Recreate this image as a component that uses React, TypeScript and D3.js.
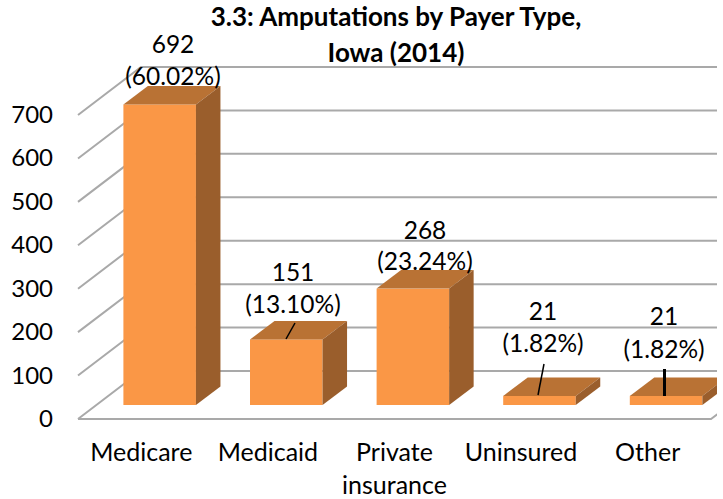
import React from 'react';
import * as d3 from 'd3';

const categories = ['Medicare', 'Medicaid', 'Private insurance', 'Uninsured', 'Other'];
const counts = [692, 151, 268, 21, 21];
const shares = ['60.02%', '13.10%', '23.24%', '1.82%', '1.82%'];
const yTicks = [0, 100, 200, 300, 400, 500, 600, 700];
const titleLines = ['3.3: Amputations by Payer Type,', 'Iowa (2014)'];

// Hand-placed label spots, the original chart had them dragged around
const labelX0 = [173, 293, 425, 543, 664];
const labelBase = [85, 313, 270, 352, 358];
const labelGap = [32, 32, 31, 32, 33];

const WIDTH = 723;
const HEIGHT = 499;
const FONT = 'Lato, "Open Sans", sans-serif';
const ORANGE = '#fa9746';
const ORANGE_TOP = '#b97234';
const ORANGE_SIDE = '#9a5e2c';
const GRID = '#a9a9a9';

// front edge of the floor
const floorLeft = 78;
const floorRight = 711;
const floorY = 419;
const y = d3.scaleLinear().domain([0, 700]).range([floorY, 115]);
const x = d3.scaleBand<string>().domain(categories).range([floorLeft, floorRight]).paddingInner(0.427).paddingOuter(0.2135);
const labelX = d3.scaleBand<string>().domain(categories).range([floorLeft, floorRight]);

// chart depth: how far the back wall is shifted from the front edge
const wallDx = 63;
const wallDy = 48;
// the bars stand inside the floor
const barInset = 14 / wallDy;
const barDx = 24.5;
const barDy = 18.5;

const path = d3.line();

export default function App() {
    const baseShiftX = wallDx * barInset;
    const baseShiftY = wallDy * barInset;
    const barWidth = x.bandwidth();

    return (
        <svg
            width={WIDTH}
            height={HEIGHT}
            style={{ position: 'absolute', left: 0, top: 0, background: '#fff', fontFamily: FONT }}
        >
            <defs>
                <clipPath id="plot-clip">
                    <rect x={0} y={0} width={717} height={HEIGHT} />
                </clipPath>
            </defs>

            <g clipPath="url(#plot-clip)" fill="none" stroke={GRID} strokeWidth={2}>
                {yTicks.map(t => (
                    <path
                        key={t}
                        d={path([
                            [floorLeft, y(t)],
                            [floorLeft + wallDx, y(t) - wallDy],
                            [floorRight + wallDx, y(t) - wallDy],
                        ]) ?? ''}
                    />
                ))}
                <path
                    d={path([
                        [floorLeft, floorY],
                        [floorRight, floorY],
                        [floorRight + wallDx, floorY - wallDy],
                    ]) ?? ''}
                />
            </g>

            {yTicks.map(t => (
                <text key={t} x={53} y={y(t) + 8} textAnchor="end" fontSize={24} fill="#000">
                    {t}
                </text>
            ))}

            <g clipPath="url(#plot-clip)">
                {categories.map((c, i) => {
                    const x0 = (x(c) ?? 0) + baseShiftX;
                    const x1 = x0 + barWidth;
                    const bottom = floorY - baseShiftY;
                    const top = bottom - (floorY - y(counts[i]));
                    return (
                        <g key={c}>
                            <rect x={x0} y={top} width={barWidth} height={bottom - top} fill={ORANGE} />
                            <path
                                d={(path([
                                    [x0, top],
                                    [x0 + barDx, top - barDy],
                                    [x1 + barDx, top - barDy],
                                    [x1, top],
                                ]) ?? '') + 'Z'}
                                fill={ORANGE_TOP}
                            />
                            <path
                                d={(path([
                                    [x1, top],
                                    [x1 + barDx, top - barDy],
                                    [x1 + barDx, bottom - barDy],
                                    [x1, bottom],
                                ]) ?? '') + 'Z'}
                                fill={ORANGE_SIDE}
                            />
                        </g>
                    );
                })}
            </g>

            {/* leader lines from the moved labels */}
            <g stroke="#000">
                <line x1={295} y1={323} x2={286} y2={339} strokeWidth={1.5} />
                <line x1={544} y1={364} x2={538} y2={395} strokeWidth={1.5} />
                <line x1={664.5} y1={369} x2={664.5} y2={396} strokeWidth={3} />
            </g>

            {categories.map((c, i) => (
                <text key={c} textAnchor="middle" fontSize={24.5} fill="#000">
                    <tspan x={labelX0[i]} y={labelBase[i] - labelGap[i]}>{counts[i]}</tspan>
                    <tspan x={labelX0[i]} y={labelBase[i]}>({shares[i]})</tspan>
                </text>
            ))}

            {categories.map(c => {
                const cx = (labelX(c) ?? 0) + labelX.bandwidth() / 2;
                const words = c === 'Private insurance' ? c.split(' ') : [c];
                return (
                    <text key={c} textAnchor="middle" fontSize={25} fill="#000">
                        {words.map((w, j) => (
                            <tspan key={w} x={cx} y={461 + j * 33}>{w}</tspan>
                        ))}
                    </text>
                );
            })}

            <text textAnchor="middle" fontSize={26} fontWeight={700} fill="#000">
                {titleLines.map((l, j) => (
                    <tspan key={l} x={396} y={26 + j * 36}>{l}</tspan>
                ))}
            </text>
        </svg>
    );
}
